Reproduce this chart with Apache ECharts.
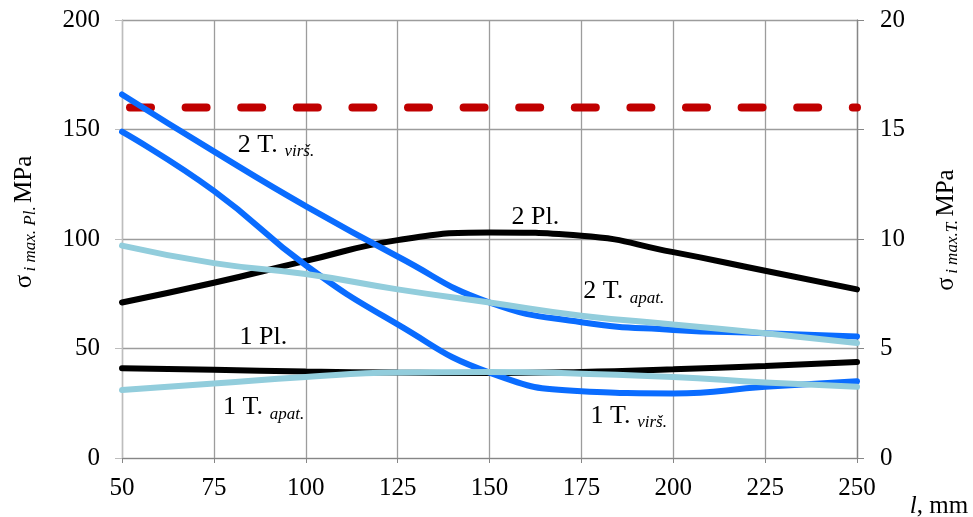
<!DOCTYPE html>
<html>
<head>
<meta charset="utf-8">
<script src="https://cdn.jsdelivr.net/npm/echarts@6/dist/echarts.min.js"></script>
<style>
  html, body { margin: 0; padding: 0; background: #fff; }
  #chart { width: 973px; height: 517px; }
</style>
</head>
<body>
<div id="chart"></div>
<script>
// Span length l, mm
const lengths = [50, 75, 100, 125, 150, 175, 200, 225, 250];

// Plate stresses, MPa (left axis)
const pl1 = [41, 40.3, 39.5, 39, 38.8, 39.3, 40.5, 42, 43.8];
const pl2 = [71, 80, 90, 99.5, 103, 101.5, 94, 85.5, 77];

// Tube stresses, MPa (right axis)
const t1virs = [14.9, 12.2, 8.8, 6.1, 3.9, 3.05, 2.95, 3.25, 3.5];
const t2virs = [16.6, 14.0, 11.5, 9.2, 7.1, 6.2, 5.85, 5.7, 5.55];
const t1apat = [3.1, 3.4, 3.7, 3.9, 3.93, 3.85, 3.7, 3.45, 3.25];
const t2apat = [9.7, 8.9, 8.4, 7.7, 7.1, 6.5, 6.1, 5.7, 5.25];

// Allowable stress level, MPa (left axis)
const limitX = [50, 250];
const limitY = [160, 160];

// Axis ticks
const xTicks = { min: 50, max: 250, step: 25 };
const yLeftTicks = { min: 0, max: 200, step: 50 };
const yRightTicks = { min: 0, max: 20, step: 5 };

const FONT = 'Liberation Serif';
const BLACK = '#000000';
const BLUE = '#0A6CFF';
const LIGHT = '#92CDDC';
const RED = '#C00000';

const pairs = (xs, ys) => xs.map((x, i) => [x, ys[i]]);

const chart = echarts.init(document.getElementById('chart'), null, { renderer: 'canvas' });

function curve(name, data, color, yAxisIndex) {
  return {
    name, type: 'line', data, yAxisIndex,
    smooth: 0.5, showSymbol: false, symbol: 'none',
    lineStyle: { color, width: 6, cap: 'round' },
    animation: false, z: 3
  };
}

chart.setOption({
  animation: false,
  grid: { left: 122, right: 116, top: 20, bottom: 59, containLabel: false },
  xAxis: {
    type: 'value', min: xTicks.min, max: xTicks.max, interval: xTicks.step,
    axisLine: { show: true, lineStyle: { color: '#868686', width: 1 } },
    axisTick: { show: true, inside: false, length: 5, lineStyle: { color: '#868686' } },
    axisLabel: { fontFamily: FONT, fontSize: 25, color: '#000', margin: 18 },
    splitLine: { show: true, lineStyle: { color: '#9c9c9c', width: 1.3 } }
  },
  yAxis: [
    {
      type: 'value', min: yLeftTicks.min, max: yLeftTicks.max, interval: yLeftTicks.step,
      position: 'left',
      axisLine: { show: true, lineStyle: { color: '#bdbdbd', width: 1.3 } },
      axisTick: { show: true, inside: false, length: 7, lineStyle: { color: '#bdbdbd' } },
      axisLabel: { fontFamily: FONT, fontSize: 25, color: '#000', margin: 22 },
      splitLine: { show: true, lineStyle: { color: '#9c9c9c', width: 1.3 } }
    },
    {
      type: 'value', min: yRightTicks.min, max: yRightTicks.max, interval: yRightTicks.step,
      position: 'right',
      axisLine: { show: true, lineStyle: { color: '#868686', width: 1.3 } },
      axisTick: { show: true, inside: false, length: 7, lineStyle: { color: '#868686' } },
      axisLabel: { fontFamily: FONT, fontSize: 25, color: '#000', margin: 23 },
      splitLine: { show: false }
    }
  ],
  series: [
    {
      name: 'limit', type: 'line', data: pairs(limitX, limitY), yAxisIndex: 0,
      showSymbol: false, symbol: 'none',
      lineStyle: { color: RED, width: 8, type: [21, 34.6], dashOffset: -8, cap: 'round' },
      z: 2
    },
    curve('1 Pl.', pairs(lengths, pl1), BLACK, 0),
    curve('2 Pl.', pairs(lengths, pl2), BLACK, 0),
    curve('1 T. virš.', pairs(lengths, t1virs), BLUE, 1),
    curve('2 T. virš.', pairs(lengths, t2virs), BLUE, 1),
    curve('1 T. apat.', pairs(lengths, t1apat), LIGHT, 1),
    curve('2 T. apat.', pairs(lengths, t2apat), LIGHT, 1)
  ]
});

// Curve captions, anchored at [l, left-axis value] of their left edge
const captions = [
  { main: '2 T.', sub: 'virš.', at: [81.5, 143] },
  { main: '2 Pl.', sub: '', at: [156, 110] },
  { main: '2 T.', sub: 'apat.', at: [175.5, 76] },
  { main: '1 Pl.', sub: '', at: [82, 55] },
  { main: '1 T.', sub: 'apat.', at: [77.5, 23] },
  { main: '1 T.', sub: 'virš.', at: [177.5, 19] }
];

const rich = {
  m: { fontFamily: FONT, fontSize: 26, color: '#000', lineHeight: 30, verticalAlign: 'middle' },
  s: { fontFamily: FONT, fontSize: 17, fontStyle: 'italic', color: '#000', lineHeight: 17, verticalAlign: 'bottom', padding: [10, 0, 0, 0] },
  g: { fontSize: 12 }
};

const graphics = captions.map(c => {
  const p = chart.convertToPixel({ xAxisIndex: 0, yAxisIndex: 0 }, c.at);
  return {
    type: 'text', x: p[0], y: p[1], z: 10,
    style: {
      text: c.sub ? `{m|${c.main}}{g|  }{s|${c.sub}}` : `{m|${c.main}}`,
      rich, verticalAlign: 'middle', align: 'left'
    }
  };
});

// Axis titles
const titleRich = {
  m: { fontFamily: FONT, fontSize: 25, color: '#000', lineHeight: 30, verticalAlign: 'middle' },
  s: { fontFamily: FONT, fontSize: 17, fontStyle: 'italic', color: '#000', lineHeight: 17, verticalAlign: 'bottom', padding: [10, 0, 0, 0] }
};
graphics.push({
  type: 'text', x: 24, y: 222, rotation: Math.PI / 2, z: 10,
  style: {
    text: '{m|σ} {s|i max. Pl.} {m|MPa}', rich: titleRich,
    align: 'center', verticalAlign: 'middle'
  }
});
graphics.push({
  type: 'text', x: 946, y: 230, rotation: Math.PI / 2, z: 10,
  style: {
    text: '{m|σ} {s|i max.T.} {m|MPa}', rich: titleRich,
    align: 'center', verticalAlign: 'middle'
  }
});
graphics.push({
  type: 'text', x: 939, y: 506, z: 10,
  style: {
    text: '{i|l}{m|, mm}',
    rich: {
      i: { fontFamily: FONT, fontSize: 25, fontStyle: 'italic', color: '#000' },
      m: { fontFamily: FONT, fontSize: 25, color: '#000' }
    },
    align: 'center', verticalAlign: 'middle'
  }
});

chart.setOption({ graphic: graphics });
</script>
</body>
</html>
